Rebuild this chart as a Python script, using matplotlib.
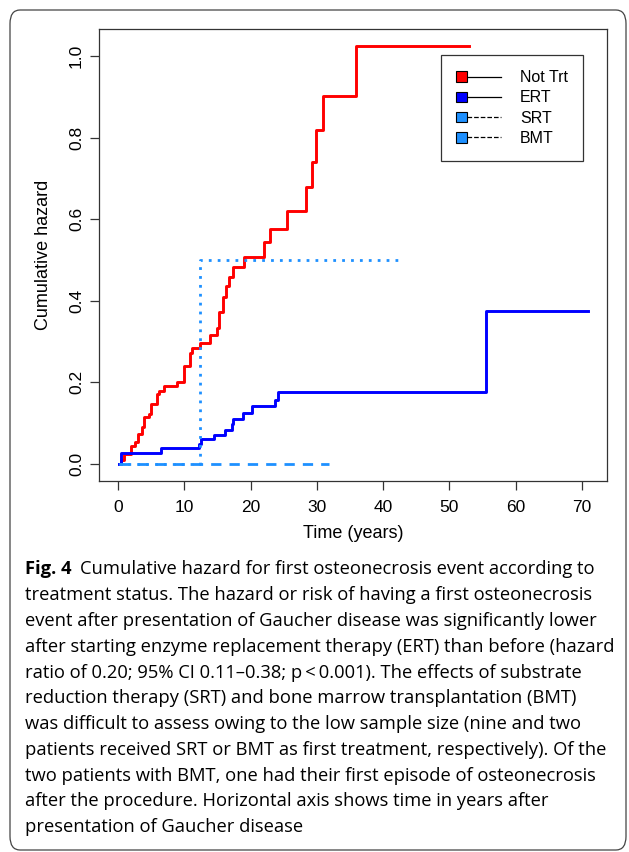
import matplotlib
matplotlib.use("Agg")
import matplotlib.pyplot as plt
from matplotlib.lines import Line2D
from matplotlib.patches import Rectangle, FancyBboxPatch
from matplotlib.legend_handler import HandlerBase
from matplotlib.ticker import FormatStrFormatter

# step data (years, cumulative hazard)
not_trt_t = [0.3, 0.5, 0.84, 2.0, 2.6, 2.95, 3.6, 3.96, 4.6, 5.0, 5.9, 6.1, 6.9, 8.9,
             9.9, 10.9, 11.2, 12.4, 13.9, 14.9, 15.2, 15.9, 16.3, 16.8, 17.4, 19.0,
             21.95, 22.96, 25.5, 28.4, 29.25, 29.85, 30.9, 35.9, 53.0]
not_trt_h = [0.0, 0.01, 0.025, 0.045, 0.053, 0.074, 0.090, 0.114, 0.123, 0.148, 0.172,
             0.180, 0.190, 0.200, 0.241, 0.271, 0.283, 0.296, 0.315, 0.333, 0.372, 0.409,
             0.435, 0.458, 0.482, 0.507, 0.544, 0.577, 0.620, 0.679, 0.740, 0.819, 0.902,
             1.025, 1.025]

ert_t = [0.1, 0.5, 6.5, 12.15, 12.55, 14.4, 16.2, 17.2, 17.4, 18.9, 20.2, 23.7, 24.2, 55.5, 71.0]
ert_h = [0.0, 0.028, 0.038, 0.050, 0.061, 0.072, 0.083, 0.097, 0.110, 0.124, 0.143,
         0.157, 0.176, 0.376, 0.376]

srt_t = [0.1, 31.9]
srt_h = [0.0, 0.0]

bmt_t = [0.1, 12.4, 42.2]
bmt_h = [0.0, 0.5, 0.5]

legend_labels = ["Not Trt", "ERT", "SRT", "BMT"]
x_ticks = [0, 10, 20, 30, 40, 50, 60, 70]
y_ticks = [0.0, 0.2, 0.4, 0.6, 0.8, 1.0]

caption_bold = "Fig. 4"
caption_lines = [
    "Cumulative hazard for first osteonecrosis event according to",
    "treatment status. The hazard or risk of having a first osteonecrosis",
    "event after presentation of Gaucher disease was significantly lower",
    "after starting enzyme replacement therapy (ERT) than before (hazard",
    "ratio of 0.20; 95% CI 0.11\u20130.38; p\u2009<\u20090.001). The effects of substrate",
    "reduction therapy (SRT) and bone marrow transplantation (BMT)",
    "was difficult to assess owing to the low sample size (nine and two",
    "patients received SRT or BMT as first treatment, respectively). Of the",
    "two patients with BMT, one had their first episode of osteonecrosis",
    "after the procedure. Horizontal axis shows time in years after",
    "presentation of Gaucher disease",
]

W, H = 629, 852
plt.rcParams['font.family'] = ['Liberation Sans', 'DejaVu Sans']

fig = plt.figure(figsize=(W / 100, H / 100), dpi=100)

# rounded frame around figure + caption
frame = FancyBboxPatch((10 / W, 1 - 850 / H), (626 - 10) / W, (850 - 10) / H,
                       boxstyle="round,pad=0,rounding_size=0.016",
                       transform=fig.transFigure, fill=False,
                       edgecolor='#444444', linewidth=0.9)
fig.patches.append(frame)

ax = fig.add_axes([99.3 / W, 1 - 480.7 / H, 508 / W, 451.7 / H])

red = '#ff0000'
blue = '#0000ff'
lblue = '#1e90ff'

ax.step(not_trt_t, not_trt_h, where='post', color=red, lw=2.1)
ax.step(ert_t, ert_h, where='post', color=blue, lw=2.1)
ax.step(srt_t, srt_h, where='post', color=lblue, lw=2.0, linestyle=(0, (3.7, 2.9)))
ax.step(bmt_t, bmt_h, where='post', color=lblue, lw=2.0, linestyle=(0, (1, 2.2)))

ax.set_xlim(-2.84, 73.84)
ax.set_ylim(-0.041, 1.066)
ax.set_xticks(x_ticks)
ax.set_yticks(y_ticks)
ax.yaxis.set_major_formatter(FormatStrFormatter('%.1f'))
ax.tick_params(axis='both', direction='out', length=6.5, width=0.9, color='#333333',
               labelsize=12.5, labelcolor='black')
ax.tick_params(axis='x', pad=7.5)
ax.tick_params(axis='y', pad=4.5, labelrotation=90)
for lab in ax.get_yticklabels():
    lab.set_va('center')
for s in ax.spines.values():
    s.set_color('#333333')
    s.set_linewidth(0.9)

ax.set_xlabel("Time (years)", fontsize=13, va='center')
ax.xaxis.set_label_coords(0.5, (480.7 - 534) / 451.7)
ax.set_ylabel("Cumulative hazard", fontsize=13, va='center')
ax.yaxis.set_label_coords((44 - 99.3) / 508, 0.5)


class SquareLine(HandlerBase):
    def create_artists(self, legend, orig, xd, yd, w, h, fontsize, trans):
        s = h * 0.95
        sq = Rectangle((-xd, -yd + (h - s) / 2), s, s, facecolor=orig.get_color(),
                       edgecolor='black', lw=0.8, transform=trans)
        ln = Line2D([-xd + s, -xd + w], [-yd + h / 2] * 2, color='black', lw=0.9,
                    linestyle=orig.get_linestyle(), transform=trans)
        return [ln, sq]


handles = [Line2D([], [], color=red, linestyle='-'),
           Line2D([], [], color=blue, linestyle='-'),
           Line2D([], [], color=lblue, linestyle=(0, (3, 2))),
           Line2D([], [], color=lblue, linestyle=(0, (1, 1.4)))]
leg = ax.legend(handles, legend_labels, handler_map={Line2D: SquareLine()},
                loc='upper right', bbox_to_anchor=((583.3 - 99.3) / 508, (480.7 - 55) / 451.7),
                borderaxespad=0, fontsize=11.5, frameon=True, fancybox=False,
                edgecolor='#333333', framealpha=1, handlelength=2.8, handletextpad=1.2,
                labelspacing=0.33, borderpad=0.95)
leg.get_frame().set_linewidth(0.9)

# caption
cap_font = ['Open Sans', 'DejaVu Sans']
cap_size = 13.2
y0 = 574.3
step = 25.8
t1 = fig.text(25 / W, 1 - y0 / H, caption_bold, fontsize=cap_size, fontweight='bold',
              family=cap_font, va='baseline', ha='left')
fig.canvas.draw()
bb = t1.get_window_extent()
fig.text((bb.x1 + 9) / W, 1 - y0 / H, caption_lines[0], fontsize=cap_size,
         family=cap_font, va='baseline', ha='left')
for i, line in enumerate(caption_lines[1:], start=1):
    fig.text(25 / W, 1 - (y0 + i * step) / H, line, fontsize=cap_size,
             family=cap_font, va='baseline', ha='left')

fig.savefig("out.png", dpi=100)
